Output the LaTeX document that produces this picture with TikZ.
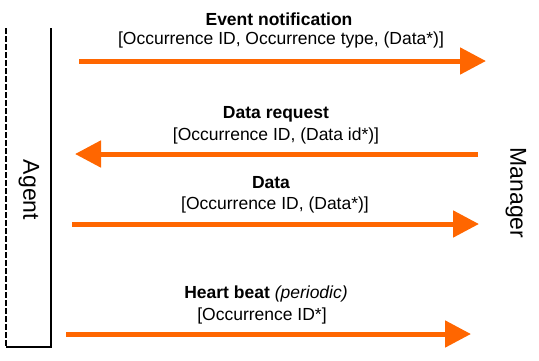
\documentclass[tikz,border=0pt]{standalone}
\usepackage{fontspec}
\setmainfont{Liberation Sans}
\usetikzlibrary{arrows.meta}
\definecolor{msgorange}{HTML}{FF6600}
\begin{document}
\begin{tikzpicture}[x=1pt,y=-1pt,
  msg/.style={draw=msgorange,line width=5pt,-{Triangle[length=26pt,width=26pt]}},
  title/.style={font=\fontsize{17.5}{19}\selectfont\bfseries,anchor=center,inner sep=0pt},
  params/.style={font=\fontsize{17.5}{19}\selectfont,anchor=center,inner sep=0pt},
  actor/.style={font=\fontsize{23}{25}\selectfont,rotate=-90,inner sep=0pt}]
\useasboundingbox (0,0) rectangle (539,360);
% agent lane
\coordinate (dtop) at (6,28);
\coordinate (dbot) at (6,347);
\coordinate (stop) at (51,28);
\coordinate (sbot) at (51,347);
\draw[line width=1.5pt,dashed,dash pattern=on 6pt off 2pt] (dtop) -- (dbot);
\draw[line width=2.5pt] (stop) -- (sbot) -- (dbot);
\node[actor] (agent) at (29,190) {Agent};
\node[actor] (manager) at (516,193) {Manager};
% message endpoints
\coordinate (a1) at (79,61);   \coordinate (b1) at (486,61);
\coordinate (a2) at (478,154); \coordinate (b2) at (75,154);
\coordinate (a3) at (72,224);  \coordinate (b3) at (479,224);
\coordinate (a4) at (66,334);  \coordinate (b4) at (471,334);
\draw[msg] (a1) -- (b1);
\draw[msg] (a2) -- (b2);
\draw[msg] (a3) -- (b3);
\draw[msg] (a4) -- (b4);
% message labels
\node[title] (t1) at (279,19) {Event notification};
\node[params] (p1) at (281,40) {[Occurrence ID, Occurrence type, (Data*)]};
\node[title] (t2) at (276,114) {Data request};
\node[params] (p2) at (276,136) {[Occurrence ID, (Data id*)]};
\node[title] (t3) at (271,183) {Data};
\node[params] (p3) at (275,205) {[Occurrence ID, (Data*)]};
\node[title] (t4) at (266,294) {Heart beat \textmd{\itshape(periodic)}};
\node[params] (p4) at (262,316) {[Occurrence ID*]};
\end{tikzpicture}
\end{document}
